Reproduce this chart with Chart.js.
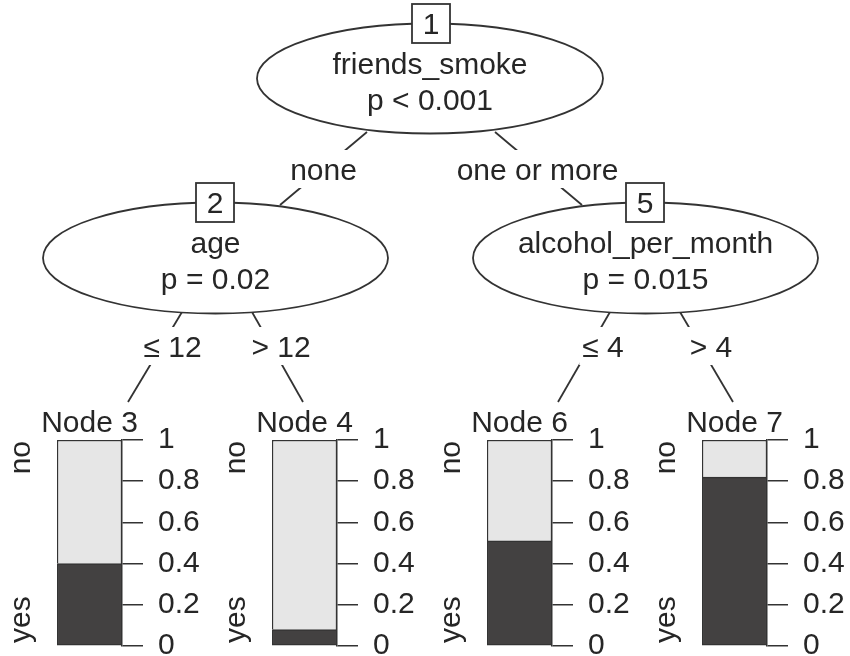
<!DOCTYPE html>
<html>
<head>
<meta charset="utf-8">
<script src="https://cdn.jsdelivr.net/npm/chart.js@4.4.1/dist/chart.umd.min.js"></script>
<style>
  html, body { margin: 0; padding: 0; background: #fff; width: 850px; height: 656px; overflow: hidden; }
  #wrap { position: relative; width: 850px; height: 656px; }
  canvas { position: absolute; }
</style>
</head>
<body>
<div id="wrap">
  <canvas id="tree" width="850" height="656" style="left:0;top:0"></canvas>
</div>
<script>
// inner nodes of the tree
const innerIds = [1, 2, 5];
const splitVars = ['friends_smoke', 'age', 'alcohol_per_month'];
const pValues = ['p < 0.001', 'p = 0.02', 'p = 0.015'];
const edgeLabels = ['none', 'one or more', '≤ 12', '> 12', '≤ 4', '> 4'];

// terminal nodes: share of each class
const terminalIds = [3, 4, 6, 7];
const classLevels = ['no', 'yes'];
const shareYes = [0.40, 0.08, 0.51, 0.82];
const shareNo = [0.60, 0.92, 0.49, 0.18];
const axisTicks = [0, 0.2, 0.4, 0.6, 0.8, 1];

// layout (pixels)
const FONT = "'Liberation Sans', Arial, Helvetica, sans-serif";
const FS = 30;
const INK = '#262626';
const LINE = '#333333';
const ellipses = [
  { cx: 430, cy: 78.5, rx: 173, ry: 55, box: 431 },
  { cx: 215.5, cy: 258, rx: 172.5, ry: 55.5, box: 215 },
  { cx: 645.5, cy: 258, rx: 172.5, ry: 55.5, box: 645 }
];
const edges = [
  { a: [367, 132], b: [280, 205], lx: 323.5, ly: 169 },
  { a: [495, 132], b: [582, 205], lx: 537.5, ly: 169 },
  { a: [182, 312], b: [128, 402], lx: 172.5, ly: 346 },
  { a: [252, 312], b: [303, 402], lx: 281, ly: 346 },
  { a: [610, 312], b: [558, 402], lx: 603, ly: 346 },
  { a: [680, 312], b: [733, 402], lx: 711, ly: 346 }
];
const barLeft = [57, 272, 487, 702];
const barW = 65;

const treePlugin = {
  id: 'tree',
  afterDraw(chart) {
    const ctx = chart.ctx;
    const X = v => chart.scales.x.getPixelForValue(v);
    const Y = v => chart.scales.y.getPixelForValue(v);
    ctx.save();
    ctx.strokeStyle = LINE;
    ctx.lineWidth = 1.8;
    ctx.font = FS + 'px ' + FONT;
    ctx.textAlign = 'center';
    ctx.textBaseline = 'alphabetic';

    // edges and their labels
    edges.forEach((e, i) => {
      ctx.beginPath();
      ctx.moveTo(X(e.a[0]), Y(e.a[1]));
      ctx.lineTo(X(e.b[0]), Y(e.b[1]));
      ctx.stroke();
      const w = ctx.measureText(edgeLabels[i]).width;
      ctx.fillStyle = '#fff';
      ctx.fillRect(X(e.lx) - w / 2 - 3, Y(e.ly) - 19, w + 6, 38);
      ctx.fillStyle = INK;
      ctx.fillText(edgeLabels[i], X(e.lx), Y(e.ly) + 11);
    });

    // split nodes
    ellipses.forEach((n, i) => {
      ctx.beginPath();
      ctx.ellipse(X(n.cx), Y(n.cy), n.rx, n.ry, 0, 0, Math.PI * 2);
      ctx.fillStyle = '#fff';
      ctx.fill();
      ctx.stroke();
      ctx.fillStyle = INK;
      ctx.fillText(splitVars[i], X(n.cx), Y(n.cy) - 5);
      ctx.fillText(pValues[i], X(n.cx), Y(n.cy) + 31);
      // id box on top of ellipse
      const top = n.cy - n.ry;
      ctx.fillStyle = '#fff';
      ctx.fillRect(X(n.box) - 19, Y(top) - 19.5, 38, 39);
      ctx.strokeRect(X(n.box) - 19, Y(top) - 19.5, 38, 39);
      ctx.fillStyle = INK;
      ctx.fillText(String(innerIds[i]), X(n.box), Y(top) + 10.5);
    });
    ctx.restore();
  }
};

new Chart(document.getElementById('tree'), {
  type: 'scatter',
  data: { datasets: [] },
  options: {
    responsive: false,
    animation: false,
    layout: { padding: 0 },
    plugins: { legend: { display: false }, tooltip: { enabled: false } },
    scales: {
      x: { display: false, min: 0, max: 850 },
      y: { display: false, min: 0, max: 656, reverse: true }
    }
  },
  plugins: [treePlugin]
});

// labels around each terminal panel
const panelPlugin = {
  id: 'panel',
  afterDraw(chart, args, opts) {
    const ctx = chart.ctx;
    const a = chart.chartArea;
    ctx.save();
    ctx.font = FS + 'px ' + FONT;
    ctx.fillStyle = INK;
    ctx.textAlign = 'center';
    ctx.textBaseline = 'alphabetic';
    ctx.fillText('Node ' + opts.id, (a.left + a.right) / 2, a.top - 8);
    ctx.translate(a.left - 27, 0);
    ctx.rotate(-Math.PI / 2);
    ctx.textAlign = 'right';
    ctx.fillText(classLevels[0], -(a.top + 1), 0);
    ctx.textAlign = 'left';
    ctx.fillText(classLevels[1], -(a.bottom - 3), 0);
    ctx.restore();
  }
};

const wrap = document.getElementById('wrap');
const padLeft = 57;
const cvW = 220;
const cvH = 290;

terminalIds.forEach((id, i) => {
  const cv = document.createElement('canvas');
  cv.width = cvW;
  cv.height = cvH;
  cv.style.left = (barLeft[i] - padLeft) + 'px';
  cv.style.top = '400px';
  wrap.appendChild(cv);

  new Chart(cv, {
    type: 'bar',
    data: {
      labels: [''],
      datasets: [
        {
          label: classLevels[1],
          data: [shareYes[i]],
          backgroundColor: '#434141',
          borderColor: LINE,
          borderWidth: { top: 1.5, left: 1.5, right: 1.5, bottom: 1.5 },
          borderSkipped: false
        },
        {
          label: classLevels[0],
          data: [shareNo[i]],
          backgroundColor: '#e6e6e6',
          borderColor: LINE,
          borderWidth: { top: 1.5, left: 1.5, right: 1.5, bottom: 0 },
          borderSkipped: false
        }
      ]
    },
    options: {
      responsive: false,
      animation: false,
      barPercentage: 1,
      categoryPercentage: 1,
      layout: { padding: { left: padLeft, top: 40, bottom: 44, right: 0 } },
      plugins: {
        legend: { display: false },
        tooltip: { enabled: false },
        panel: { id: id }
      },
      scales: {
        x: { display: false, stacked: true },
        y: {
          stacked: true,
          position: 'right',
          min: 0,
          max: 1,
          afterBuildTicks(s) { s.ticks = axisTicks.map(v => ({ value: v })); },
          afterFit(s) { s.width = cvW - padLeft - barW; },
          ticks: {
            padding: 15,
            color: INK,
            font: { family: FONT, size: FS },
            callback: v => String(v)
          },
          grid: {
            drawOnChartArea: false,
            drawTicks: true,
            tickLength: 21,
            color: LINE,
            lineWidth: 1.5
          },
          border: { display: true, color: LINE, width: 1.5 }
        }
      }
    },
    plugins: [panelPlugin]
  });
});
</script>
</body>
</html>
